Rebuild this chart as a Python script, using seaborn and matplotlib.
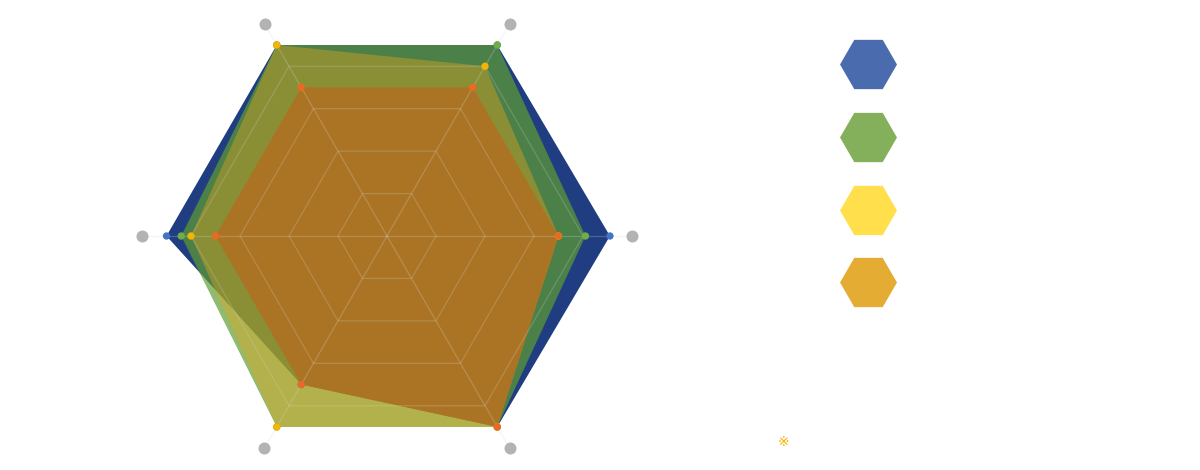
import numpy as np
import pandas as pd
import seaborn as sns
import matplotlib.pyplot as plt
from matplotlib.lines import Line2D

# radar data, six spokes counter-clockwise starting at the right
categories = ["C1", "C2", "C3", "C4", "C5", "C6"]
series_names = ["Series 1", "Series 2", "Series 3", "Series 4"]
blue_vals = [4.55, 4.5, 4.5, 4.5, 3.5, 4.5]
green_vals = [4.05, 4.5, 4.5, 4.2, 4.5, 4.5]
yellow_vals = [3.5, 4.0, 4.5, 4.0, 4.5, 4.5]
orange_vals = [3.5, 3.5, 3.5, 3.5, 3.5, 4.5]
grid_levels = [1, 2, 3, 4]
axis_max = 5

fill_colors = ["#1f3d80", "#609d32", "#e8a417", "#b27022"]
fill_alphas = [1.0, 0.7, 0.4, 0.85]
marker_colors = ["#4472c4", "#70ad47", "#f5b400", "#ea6a24"]
legend_colors = ["#4a6bae", "#84b05c", "#ffe04c", "#e4ac32"]


def to_xy(vals, angles):
    vals = np.asarray(vals, dtype=float)
    return vals * np.cos(angles), vals * np.sin(angles)


def main():
    sns.set_theme(style="white")
    plt.rcParams["font.family"] = ["DejaVu Sans", "Noto Sans CJK SC"]

    angles = np.deg2rad(np.arange(len(categories)) * 60.0)
    all_vals = [blue_vals, green_vals, yellow_vals, orange_vals]

    rows = []
    for name, vals in zip(series_names, all_vals):
        x, y = to_xy(vals, angles)
        for cat, xi, yi in zip(categories, x, y):
            rows.append({"series": name, "category": cat, "x": xi, "y": yi})
    df = pd.DataFrame(rows)

    fig = plt.figure(figsize=(12, 4.7), dpi=100)
    ax = fig.add_axes([0, 0, 1, 1])
    unit = 49.0  # pixels per value unit
    ax.set_xlim(-387 / unit, (1200 - 387) / unit)
    ax.set_ylim(-234 / unit, 236 / unit)
    ax.axis("off")

    # filled areas
    for i, name in enumerate(series_names):
        sub = df[df["series"] == name]
        ax.fill(sub["x"], sub["y"], color=fill_colors[i], alpha=fill_alphas[i],
                lw=0, zorder=1 + i)

    # hexagonal grid and spokes on top of the fills
    for lvl in grid_levels:
        gx, gy = to_xy([lvl] * len(categories), angles)
        ax.plot(np.append(gx, gx[0]), np.append(gy, gy[0]), color="#d9d9d9",
                alpha=0.22, lw=0.9, zorder=5)
    ex, ey = to_xy([axis_max] * len(categories), angles)
    for xi, yi in zip(ex, ey):
        ax.plot([0, xi], [0, yi], color="#d9d9d9", alpha=0.25, lw=0.9, zorder=5)
    ax.scatter(ex, ey, s=75, color="#b3b3b3", lw=0, zorder=6)

    sns.scatterplot(data=df, x="x", y="y", hue="series", palette=marker_colors,
                    s=28, linewidth=0, legend=False, ax=ax, zorder=7)

    handles = [Line2D([], [], marker="H", ms=41, color=c, linestyle="None",
                      markeredgewidth=0) for c in legend_colors]
    fig.legend(handles, [""] * len(handles), loc="upper left",
               bbox_to_anchor=(0.7118, 0.8846), frameon=False, fontsize=10,
               handlelength=2, handleheight=3, labelspacing=3.05,
               borderpad=0, borderaxespad=0)

    fig.text(783 / 1200, 1 - 442 / 470, "※", ha="center", va="center",
             color="#f2b705", fontsize=10)

    fig.savefig("out.png", dpi=100)
    plt.close(fig)


if __name__ == "__main__":
    main()
